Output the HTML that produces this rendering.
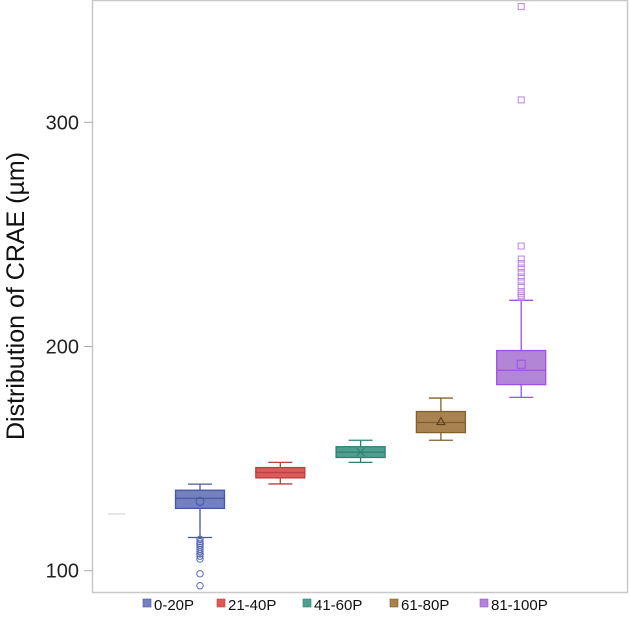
<!DOCTYPE html>
<html><head><meta charset="utf-8">
<style>
html,body{margin:0;padding:0;background:#fff;}
svg{display:block;font-family:"Liberation Sans","DejaVu Sans",sans-serif;}
</style></head>
<body>
<svg id="chart" width="630" height="628" viewBox="0 0 630 628" xmlns="http://www.w3.org/2000/svg">
  <rect x="92.5" y="0.5" width="535" height="592" fill="#fff" stroke="#c8c8c8" stroke-width="1.5"/>
  <line x1="108" y1="514" x2="125" y2="514" stroke="#ccc" stroke-width="1"/>
  <g id="yaxis"></g>
  <text transform="translate(24,296) rotate(-90)" text-anchor="middle" font-size="25" fill="#111">Distribution of CRAE (µm)</text>
  <g id="boxes"></g>
  <g id="legend"></g>
</svg>
<script>
const categories = ["0-20P","21-40P","41-60P","61-80P","81-100P"];
const whiskerLow = [114.8,138.7,148.3,158.2,177.3];
const q1 = [127.8,141.4,150.5,161.6,183.0];
const median = [132.3,143.8,152.9,166.1,189.4];
const q3 = [135.9,146.0,155.3,171.0,198.2];
const whiskerHigh = [138.6,148.3,158.2,177.0,220.6];
const means = [130.9,143.8,152.9,166.5,192.1];
const outliers = [
  [114,113,112.2,111.5,110.5,109.5,108.5,107.5,106.5,105.2,98.6,93.3],
  [],[],[],
  [221.8,222.6,223.5,224.5,227,229,231,233,235,237,239,244.8,310,351.6]
];
const yTicks = [100,200,300];

const fills = ["#7381c0","#dc5a5a","#4f9f90","#a8824f","#b385d6"];
const strokes = ["#4a58a0","#b84040","#2f8070","#80602f","#a050e0"];
const markers = ["circle","none","x","triangle","square"];
const NS = "http://www.w3.org/2000/svg";
const y = v => 570.7 - (v - 100) * 2.242;
const xc = i => 200 + i * 80.3;
const boxW = 49;

function mk(tag, attrs, parent){ const e=document.createElementNS(NS,tag); for(const k in attrs) e.setAttribute(k,attrs[k]); parent.appendChild(e); return e; }

const yaxis = document.getElementById('yaxis');
yTicks.forEach(t=>{
  const l = mk('line',{x1:84,x2:92,y1:y(t),y2:y(t),stroke:'#aaa','stroke-width':1},yaxis);
  
  
  const tx = mk('text',{x:79,y:y(t)+7,'text-anchor':'end','font-size':20,fill:'#222'},yaxis);
  tx.textContent = t;
  
  
});

const boxes = document.getElementById('boxes');
categories.forEach((c,i)=>{
  const g = mk('g',{},boxes);
  
  
  const x = xc(i), s = strokes[i];
  mk('line',{x1:x,x2:x,y1:y(whiskerHigh[i]),y2:y(q3[i]),stroke:s,'stroke-width':1.3},g);
  mk('line',{x1:x,x2:x,y1:y(q1[i]),y2:y(whiskerLow[i]),stroke:s,'stroke-width':1.3},g);
  mk('line',{x1:x-12,x2:x+12,y1:y(whiskerHigh[i]),y2:y(whiskerHigh[i]),stroke:s,'stroke-width':1.3},g);
  mk('line',{x1:x-12,x2:x+12,y1:y(whiskerLow[i]),y2:y(whiskerLow[i]),stroke:s,'stroke-width':1.3},g);
  mk('rect',{x:x-boxW/2,y:y(q3[i]),width:boxW,height:y(q1[i])-y(q3[i]),fill:fills[i],stroke:s,'stroke-width':1.3},g);
  mk('line',{x1:x-boxW/2,x2:x+boxW/2,y1:y(median[i]),y2:y(median[i]),stroke:s,'stroke-width':1.3},g);
  const my = y(means[i]);
  if(markers[i]==='circle') mk('circle',{cx:x,cy:my,r:4,fill:'none',stroke:s,'stroke-width':1.1},g);
  else if(markers[i]==='x'){ mk('path',{d:`M${x-4},${my-4}L${x+4},${my+4}M${x-4},${my+4}L${x+4},${my-4}`,stroke:s,'stroke-width':1.1,fill:'none'},g); }
  else if(markers[i]==='triangle') mk('path',{d:`M${x},${my-4}L${x+4},${my+3}L${x-4},${my+3}Z`,fill:'none',stroke:'#5a3f1a','stroke-width':1.1},g);
  else if(markers[i]==='square') mk('rect',{x:x-4,y:my-4,width:8,height:8,fill:'none',stroke:s,'stroke-width':1},g);
  outliers[i].forEach(v=>{
    let o;
    if(markers[i]==='square') o = mk('rect',{x:x-3,y:y(v)-3,width:6,height:6,fill:'none',stroke:'#c080f0','stroke-width':1},g);
    else o = mk('circle',{cx:x,cy:y(v),r:3.2,fill:'none',stroke:'#5a68b0','stroke-width':1},g);
    
    
  });
});

const legend = document.getElementById('legend');
const lx = [143,217,303,390,480];
categories.forEach((c,i)=>{
  const g = mk('g',{},legend);
  
  
  mk('rect',{x:lx[i],y:599,width:8,height:8,fill:fills[i],stroke:strokes[i],'stroke-width':0.6},g);
  const t = mk('text',{x:lx[i]+11,y:610,'font-size':15,fill:'#111'},g);
  t.textContent = c;
});
</script>
</body></html>
